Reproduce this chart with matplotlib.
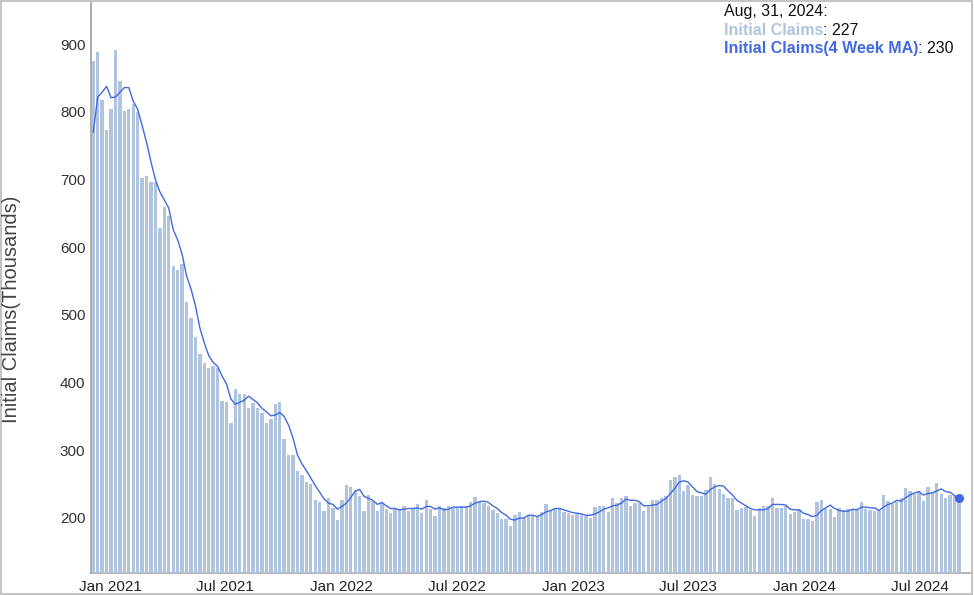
import matplotlib
matplotlib.use("Agg")
import matplotlib.pyplot as plt
import matplotlib.patches as mpatches
import pandas as pd

plt.rcParams['font.family'] = ['Liberation Sans', 'DejaVu Sans']

# Weekly initial claims (thousands), week ending Saturday
weeks = pd.date_range('2020-12-05', '2024-08-31', freq='W-SAT')
claims = [875, 888, 817, 774, 805, 892, 846, 801, 805, 812,
          800, 703, 705, 696, 697, 628, 659, 646, 572, 567,
          575, 519, 495, 468, 443, 429, 421, 425, 422, 373,
          371, 340, 390, 383, 383, 363, 370, 362, 355, 340,
          346, 368, 371, 317, 293, 293, 270, 263, 253, 250,
          226, 224, 210, 230, 215, 197, 227, 249, 246, 240,
          232, 211, 234, 225, 210, 222, 214, 208, 213, 214,
          217, 211, 213, 220, 208, 226, 214, 203, 217, 215,
          217, 215, 215, 217, 218, 223, 231, 223, 222, 217,
          212, 207, 198, 198, 188, 205, 209, 200, 204, 203,
          203, 209, 221, 211, 213, 213, 209, 207, 204, 207,
          204, 203, 200, 216, 218, 217, 209, 229, 222, 229,
          233, 218, 222, 222, 210, 216, 227, 227, 229, 232,
          256, 261, 263, 240, 249, 234, 233, 233, 241, 260,
          250, 243, 235, 230, 229, 212, 215, 216, 212, 203,
          215, 218, 218, 230, 215, 215, 217, 206, 209, 214,
          199, 199, 196, 223, 227, 213, 213, 202, 215, 212,
          213, 213, 212, 224, 213, 212, 210, 210, 234, 225,
          221, 224, 230, 244, 240, 235, 238, 225, 246, 238,
          252, 235, 230, 234, 232, 227]

# 4 week moving average line (thousands)
ma = [770, 822, 829, 838, 821, 822, 829, 836, 836, 816,
      804, 780, 755, 726, 700, 682, 670, 658, 626, 611,
      590, 558, 539, 514, 481, 459, 440, 430, 424, 410,
      398, 376, 368, 371, 374, 380, 375, 370, 362, 357,
      351, 352, 356, 350, 337, 318, 293, 280, 270, 259,
      248, 238, 228, 222, 220, 213, 217, 222, 230, 240,
      242, 232, 229, 226, 220, 223, 218, 214, 214, 212,
      213, 214, 214, 215, 213, 217, 217, 213, 215, 212,
      213, 216, 216, 216, 216, 218, 222, 224, 225, 223,
      218, 214, 208, 204, 198, 197, 200, 200, 204, 204,
      202, 205, 209, 211, 214, 214, 212, 210, 208, 207,
      206, 204, 204, 206, 209, 213, 215, 218, 219, 222,
      228, 226, 226, 224, 218, 218, 219, 220, 225, 229,
      236, 244, 253, 255, 253, 246, 239, 237, 235, 242,
      246, 248, 247, 240, 234, 226, 222, 218, 214, 212,
      212, 212, 214, 220, 220, 220, 219, 213, 212, 212,
      207, 205, 202, 204, 211, 215, 219, 214, 211, 210,
      210, 213, 212, 216, 216, 215, 215, 211, 216, 220,
      222, 226, 225, 230, 234, 237, 239, 234, 236, 237,
      240, 243, 239, 238, 233, 230]

bar_color = '#b0c4de'
line_color = '#4169e1'

fig = plt.figure(figsize=(9.74, 5.95), dpi=100)
ax = fig.add_axes([91 / 974, 1 - 573 / 595, 880 / 974, 570 / 595])

ax.bar(weeks, claims, width=5.3, color=bar_color, zorder=1)
ax.plot(weeks, ma, color=line_color, lw=1.0, zorder=3)
# highlighted last point
ax.plot(weeks[-1], ma[-1], 'o', color=line_color, ms=5.5, zorder=4)

ax.set_xlim(weeks[0] - pd.Timedelta(days=3.6), weeks[-1] + pd.Timedelta(days=19))
ax.set_ylim(118.7, 961)
ax.set_yticks(range(200, 901, 100))
xt = pd.date_range('2021-01-01', '2024-07-01', freq='6MS')
ax.set_xticks(xt)
ax.set_xticklabels([t.strftime('%b %Y') for t in xt])
ax.tick_params(axis='y', length=0, pad=4, labelsize=11, labelcolor='#333333')
ax.tick_params(axis='x', length=0, pad=5, labelsize=11, labelcolor='#222222')

for s in ['top', 'right']:
    ax.spines[s].set_visible(False)
ax.spines['left'].set_color('#9e9e9e')
ax.spines['left'].set_linewidth(1.2)
ax.spines['bottom'].set_color('#a8a8a8')
ax.spines['bottom'].set_linewidth(1.2)
ax.spines['bottom'].set_zorder(0)

fig.text(12 / 974, 1 - 309.5 / 595, 'Initial Claims(Thousands)', rotation=90,
         ha='center', va='center', fontsize=14.5, color='#444444')

# tooltip at top right
tx = 724 / 974
fig.text(tx, 1 - 16 / 595, 'Aug, 31, 2024:', fontsize=11.5, color='#111111', va='baseline')
t1 = fig.text(tx, 1 - 35 / 595, 'Initial Claims', fontsize=11.5, fontweight='bold',
              color=bar_color, va='baseline')
ax.annotate(': %d' % claims[-1], xy=(1, 0), xycoords=t1, fontsize=11.5, color='#111111',
            va='bottom', annotation_clip=False)
t2 = fig.text(tx, 1 - 53 / 595, 'Initial Claims(4 Week MA)', fontsize=11.5, fontweight='bold',
              color=line_color, va='baseline')
ax.annotate(': %d' % ma[-1], xy=(1, 0), xycoords=t2, fontsize=11.5, color='#111111',
            va='bottom', annotation_clip=False)

# outer frame
fig.patches.append(mpatches.Rectangle((0.001, 0.002), 0.997, 0.996, transform=fig.transFigure,
                                      fill=False, edgecolor='#c4c4c4', lw=1.5))

fig.savefig('out.png', dpi=100)
